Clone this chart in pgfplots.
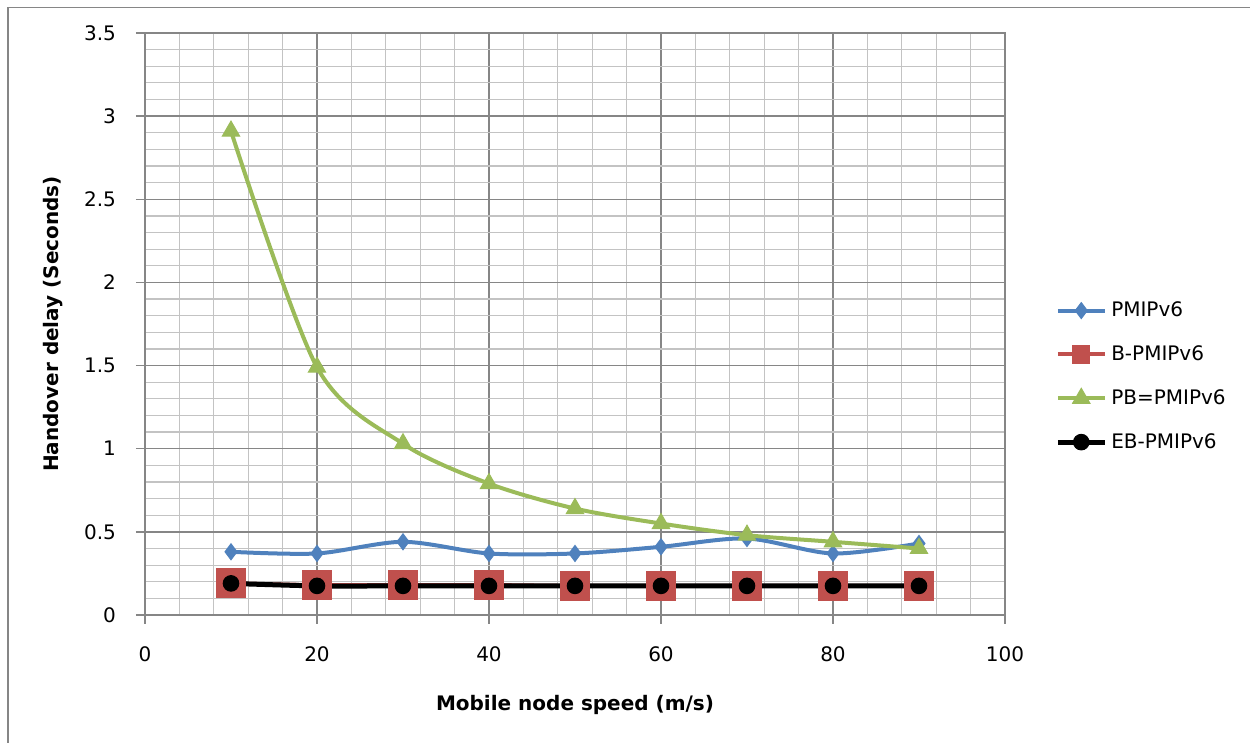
\documentclass[border=0pt]{standalone}
\usepackage{fontspec}
\setmainfont{DejaVu Sans}
\usepackage{pgfplots}
\pgfplotsset{compat=1.18}
\definecolor{cblue}{RGB}{79,129,189}
\definecolor{cred}{RGB}{192,80,77}
\definecolor{cgreen}{RGB}{155,187,89}
\definecolor{majgrid}{RGB}{134,134,134}
\definecolor{mingrid}{RGB}{195,195,195}
\begin{document}
\begin{tikzpicture}
\useasboundingbox (-72.5pt,-64pt) rectangle (552.5pt,307.5pt);
\draw[majgrid, line width=0.8pt] (-68.5pt,-64pt) -- (-68.5pt,303.75pt) -- (552.5pt,303.75pt);
\begin{axis}[
  at={(0pt,0pt)}, anchor=south west,
  scale only axis, width=430pt, height=291pt,
  xmin=0, xmax=100, ymin=0, ymax=3.5,
  xtick={0,20,...,100}, ytick={0,0.5,...,3.5},
  minor x tick num=4, minor y tick num=4,
  grid=both,
  major grid style={majgrid, line width=0.75pt},
  minor grid style={mingrid, line width=0.6pt},
  axis line style={majgrid, line width=0.75pt},
  tick align=outside, tick pos=left,
  major tick length=4.5pt, minor tick length=0pt,
  major tick style={majgrid, line width=0.75pt},
  /pgf/number format/assume math mode=true,
  ticklabel style={font=\fontsize{10}{12}\selectfont},
  xticklabel style={yshift=-8pt},
  yticklabel style={xshift=-6.5pt},
  xlabel={\bfseries Mobile node speed (m/s)},
  ylabel={\bfseries Handover delay (Seconds)},
  label style={font=\fontsize{10}{12}\selectfont},
  xlabel style={at={(axis description cs:0.5,-0.1546)}, anchor=center},
  ylabel style={at={(axis description cs:-0.107,0.5)}, anchor=center, rotate=0},
  legend style={at={(axis description cs:1.058,0.41)}, anchor=west, draw=none, fill=none,
    font=\fontsize{10}{12}\selectfont, row sep=9pt, inner sep=0pt},
  legend cell align=left,
  legend image code/.code={\draw[mark repeat=2,mark phase=2] plot coordinates {(0pt,0pt)(11.75pt,0pt)(23.5pt,0pt)};},
]
\addplot[cblue, line width=2pt, smooth, tension=0.5, mark=diamond*, mark size=4pt, mark options={fill=cblue, draw=cblue, line width=0.5pt}]
 coordinates {(10,0.38)(20,0.37)(30,0.44)(40,0.37)(50,0.37)(60,0.41)(70,0.46)(80,0.37)(90,0.43)};
\addlegendentry{PMIPv6}
\addplot[cred, line width=2pt, smooth, tension=0.5, mark=square*, mark size=7.3pt, mark options={fill=cred, draw=cred, line width=0.5pt},
  legend image code/.code={\draw[mark repeat=2,mark phase=2, mark size=4.3pt] plot coordinates {(0pt,0pt)(11.75pt,0pt)(23.5pt,0pt)};}]
 coordinates {(10,0.19)(20,0.18)(30,0.18)(40,0.18)(50,0.175)(60,0.175)(70,0.175)(80,0.175)(90,0.175)};
\addlegendentry{B-PMIPv6}
\addplot[cgreen, line width=2pt, smooth, tension=0.5, mark=triangle*, mark size=5pt, mark options={fill=cgreen, draw=cgreen, line width=0.5pt}]
 coordinates {(10,2.91)(20,1.49)(30,1.03)(40,0.79)(50,0.64)(60,0.55)(70,0.48)(80,0.44)(90,0.40)};
\addlegendentry{PB=PMIPv6}
\addplot[black, line width=2.5pt, smooth, tension=0.5, mark=*, mark size=3.9pt, mark options={fill=black, draw=black, line width=0.5pt}]
 coordinates {(10,0.19)(20,0.175)(30,0.175)(40,0.175)(50,0.175)(60,0.175)(70,0.175)(80,0.175)(90,0.175)};
\addlegendentry{EB-PMIPv6}
\end{axis}
\end{tikzpicture}
\end{document}
